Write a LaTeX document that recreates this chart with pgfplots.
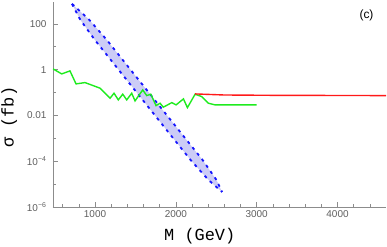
\documentclass[border=0pt]{standalone}
\usepackage{fontspec}
\setmainfont{Liberation Sans}
\newfontfamily\lmono{Liberation Mono}
\usepackage{pgfplots}
\pgfplotsset{compat=1.18}
\definecolor{bandfill}{RGB}{204,204,246}
\definecolor{axgray}{RGB}{140,140,140}
\definecolor{tickgray}{RGB}{95,95,95}
\definecolor{mgreen}{RGB}{30,235,30}
\definecolor{mred}{RGB}{255,25,25}
\definecolor{mblue}{RGB}{20,20,255}
\begin{document}
\begin{tikzpicture}
\begin{axis}[
  scale only axis, width=333bp, height=205bp,
  ymode=log, xmin=480, xmax=4600, ymin=1e-6, ymax=900,
  axis lines=left, axis line style={axgray, line width=0.8pt, -},
  tick style={axgray, line width=0.6pt},
  tick align=inside,
  major tick length=5bp, minor tick length=3bp,
  xtick={1000,2000,3000,4000}, xticklabels={1000,2000,3000,4000},
  minor xtick={600,800,1200,1400,1600,1800,2200,2400,2600,2800,3200,3400,3600,3800,4200,4400},
  ytick={1e-6,1e-4,0.01,1,100},
  yticklabels={10\textsuperscript{−6},10\textsuperscript{−4},0.01,1,100},
  minor ytick={1e-5,1e-3,0.1,10},
  tick label style={font=\fontsize{10}{12}\selectfont, text=tickgray},
  yticklabel style={xshift=-3bp},
  xlabel={\lmono M (GeV)},
  xlabel style={at={(axis description cs:0.3333,-0.161)}, anchor=base west, font=\fontsize{17}{20}\selectfont, inner sep=0pt},
  ylabel={\lmono σ (fb)},
  ylabel style={at={(axis description cs:-0.1186,0.2878)}, anchor=base west, font=\fontsize{17}{20}\selectfont, inner sep=0pt},
  clip=true,
]
\coordinate (o) at (rel axis cs:0,0);
% band fill
\addplot[fill=bandfill, draw=none] coordinates {
 (715,748) (818,149.6) (997,20.0) (1293,0.975) (1589,0.0476) (1885,2.32e-3) (2182,1.135e-4) (2404,1.51e-5) (2572,4.53e-6)
 (2503,1.51e-5) (2331,1.135e-4) (2034,2.32e-3) (1738,0.0476) (1441,0.975) (1145,20.0) (929,149.6) (715,748)
} -- cycle;
% lower edge
\addplot[mblue, line width=1.8pt, dash pattern=on 3bp off 4.5bp] coordinates {
 (715,748) (818,149.6) (997,20.0) (1293,0.975) (1589,0.0476) (1885,2.32e-3) (2182,1.135e-4) (2404,1.51e-5) (2572,4.53e-6)
};
% upper edge
\addplot[mblue, line width=1.8pt, dash pattern=on 3bp off 4.5bp] coordinates {
 (715,748) (929,149.6) (1145,20.0) (1441,0.975) (1738,0.0476) (2034,2.32e-3) (2331,1.135e-4) (2503,1.51e-5) (2572,4.53e-6)
};
% green
\addplot[mgreen, line width=1.4pt] coordinates {
 (480,1.08) (588,0.65) (690,0.88) (765,0.238) (876,0.272) (1062,0.155) (1186,0.0565) (1235,0.0933)
 (1288,0.0477) (1343,0.0845) (1392,0.0477) (1454,0.0933) (1495,0.043) (1590,0.130) (1640,0.0735)
 (1690,0.0845) (1755,0.0268) (1805,0.0341) (1845,0.0229) (1950,0.0363) (2003,0.0288) (2094,0.0526)
 (2143,0.0219) (2238,0.0845) (2321,0.0664) (2403,0.0341) (2486,0.0288) (3000,0.0288)
};
% red
\addplot[mred, line width=1.4pt] coordinates {
 (2238,0.087) (2600,0.078) (3200,0.0755) (4600,0.0735)
};
\node[font=\fontsize{12}{14}\selectfont] at (axis description cs:0.9414,0.9366) {(c)};
\end{axis}
\pgfresetboundingbox
\path ([xshift=-53bp,yshift=-40bp]o) rectangle ++(387bp,247bp);
\end{tikzpicture}
\end{document}
